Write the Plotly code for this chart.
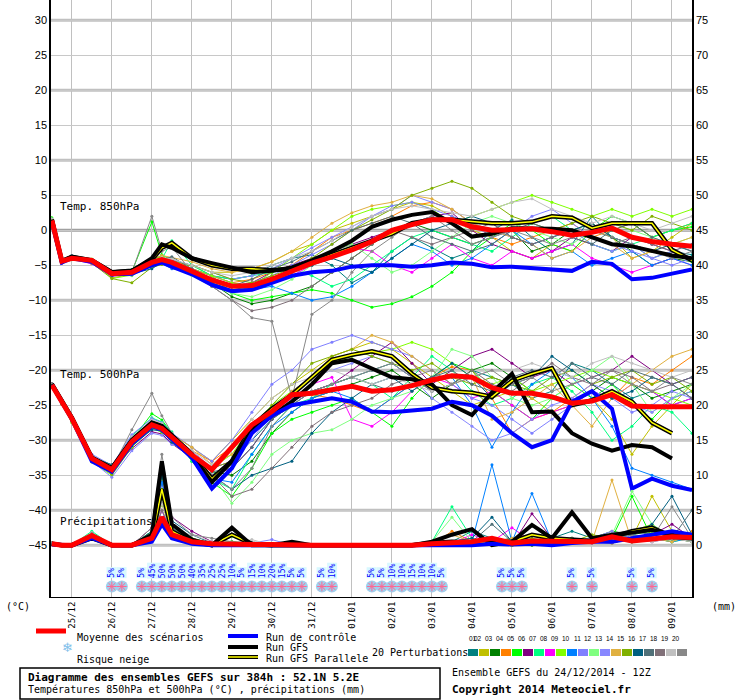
import plotly.graph_objects as go

H = [0,6,12,24,36,48,60,66,72,84,96,108,120,132,144,156,168,180,192,204,216,228,240,252,264,276,288,300,312,324,336,348,360,372,384]
day_hours = [12+24*k for k in range(16)]
day_labels = ["25/12","26/12","27/12","28/12","29/12","30/12","31/12","01/01","02/01","03/01","04/01","05/01","06/01","07/01","08/01","09/01"]
left_ticks = [30,25,20,15,10,5,0,-5,-10,-15,-20,-25,-30,-35,-40,-45]
right_ticks = [75,70,65,60,55,50,45,40,35,30,25,20,15,10,5,0]

# ---- main series: T850 (°C)
t850_mean = [1.4,-4.4,-4,-4.3,-6.2,-6,-4.6,-4.2,-4.6, -5.9,-7.1,-8,-7.9,-7,-5.9,-4.7,-3.8,-2.8,-1.6,0,0.8,1.5,1.5,0.5,0,0.1,0.2,-0.2,-0.7,-0.3,0.3,-1,-1.6,-2,-2.3]
t850_ctrl = [1.2,-4.6,-4,-4.5,-6.3,-6.2,-5,-4.6,-5.2, -6.3,-7.8,-8.7,-8.5,-7.5,-6.5,-6,-5.8,-5.2,-5,-5,-5.2,-5,-4.6,-4.8,-5.3,-5.2,-5.4,-5.6,-5.8,-4.5,-4.8,-7,-6.8,-6.2,-5.6]
t850_gfs = [1.5,-4.4,-3.8,-4.3,-6,-5.8,-4,-2,-2.5, -4,-4.7,-5.3,-6,-5.8,-5.3,-4.3,-3,-1.5,0.5,1.5,2.2,2.6,1,-0.9,-0.5,0.3,0.3,0.2,0,-1,-2,-2.3,-3,-3.6,-4]
t850_par = [1.5,-4.4,-3.8,-4.3,-6,-5.8,-4.2,-2.5,-1.8, -4,-5,-5.5,-5.5,-5.7,-5.5,-4.5,-3.5,-2.5,-1.6,-0.5,1,1.5,1.5,1.2,1,1,1.2,2,1.8,0.3,1,1,1,-2.8,-4.3]

# ---- main series: T500 (°C)
t500_mean = [-22.1,-24.5,-26.9,-32.6,-34.2,-30.2,-27.8,-28.3,-29.5, -32.1,-34.2,-31.1,-27.8,-25.9,-23.5,-23.3,-22.8,-22.3,-23,-22.8,-22.2,-21.4,-20.8,-21,-22.5,-23.3,-23.3,-23.8,-24.7,-24.4,-23.5,-25.1,-25.2,-25.2,-25.2]
t500_ctrl = [-22.1,-24.6,-27,-33,-34.5,-30.5,-28,-28.5,-29.8, -32.5,-36.9,-34,-29,-26.5,-25,-24.5,-24,-24.5,-25.9,-26,-25.7,-25.5,-24.5,-25,-26.5,-29,-31,-30,-24.5,-23,-25.5,-36.9,-35.5,-36.5,-37.1]
t500_gfs = [-22,-24.3,-26.8,-32.5,-34,-30,-27.5,-28,-29.3, -32,-36,-33,-28.5,-26.5,-24.5,-22,-19,-18.5,-19.7,-21,-21.3,-22,-25,-26.4,-23.2,-20.5,-26,-25.9,-29,-30.5,-31.5,-30.7,-31,-32.6,None]
t500_par = [-22,-24.3,-26.8,-32.5,-34,-30,-27.5,-28,-29.3, -32,-35.5,-33,-28,-25.5,-23.5,-21,-18.5,-17.8,-17.3,-18,-20.5,-22.5,-23,-23.2,-23.8,-21.5,-20.5,-19.7,-25,-24.3,-23,-24.5,-27.5,-29,None]

# ---- main series: precipitation (mm)
pr_mean = [0.2,0,0,1.4,0,0,1,4,1.5, 0.5,0.2,0.1,0.1,0.1,0,0,0,0,0,0,0,0.2,0.4,0.5,1,0.3,0.6,0.6,0.5,0.5,1.2,0.6,0.9,1.2,1.1]
pr_ctrl = [0.1,0,0,1,0,0,0.5,3,1, 0.2,0,0,0,0,0,0,0,0,0,0,0,0,0,0,0.2,0.1,0.2,0,0.3,0.5,0.5,1,1.5,2,1.5]
pr_gfs = [0.2,0,0,1.2,0,0,1.5,12,3, 0.8,0,2.5,0,0,0.5,0,0,0,0,0,0,0.5,1.5,2.3,0,0.5,2.9,1,4.7,1,1.5,1.8,2.2,1.5,1]
pr_par = [0.2,0,0,1,0,0,1,8,2, 0.5,0,1.5,0.2,0,0,0,0,0,0,0,0,0.3,0.5,0.4,0.3,0.5,1.5,1,0.8,0.6,1.2,2,2.5,1.2,1]

# ---- 20 perturbations
colors = ["#008080","#c0c000","#008000","#ff8000","#00ff00","#800080","#00ff80","#ff00ff","#80ff00","#0080ff",
          "#8080ff","#80ff80","#8888ff","#e0b040","#80b000","#006080","#507078","#807078","#c0c0c0","#888888"]

p850 = [
 [1.3,-4.6,-3.9,-4.6,-6.4,-6.1,-4.8,-4.5,-5, -5.5,-6.5,-7,-6.5,-5,-4,-3.5,-5,-7.5,-6,-3,-1,-2.5,-4,-3,0,1.5,-1,-3,-2,2,-1,-2,-4,-3,-3.5],
 [1.6,-4.3,-3.7,-4.2,-6.8,-6.3,-4.2,-3.8,-4.4, -5,-6,-6,-5.5,-4.5,-3,-2,0,1,2,3,4,3.5,2,0,-1,-3,-4,-2,-3,0,-1,-4,-3,-1,1],
 [1.2,-4.5,-4.1,-4.4,-6.1,-5.6,-4.4,-3.6,-4.9, -6,-7.5,-9.5,-10.5,-10,-9,-8,-6,-4,-2,0,1,0,-1,-2,-1,0,-3,-2,0,1,-1,-3,-5,-4,-4.5],
 [1.5,-4.4,-3.8,-4.7,-6.5,-6.2,-4.9,-4.2,-4.1, -5.5,-6.5,-7.5,-7,-6,-5,-3,-1,0,1,2,3.5,4,3,1,-1,-2,-1,0,1,-1,0,1,-1,0,1],
 [1.8,-4.2,-3.6,-4.3,-6.2,-5.9,1.2,-3.5,-4.3, -5,-6.5,-9,-10,-9.5,-9,-8.5,-9,-10,-11,-10.5,-9.5,-8,-6,-3,-1,1,0,-2,-3,0,2,1,-1,0,0.5],
 [1.4,-4.7,-4,-4.5,-6,-5.8,-4.7,-3.9,-5.2, -6,-7,-8,-7.5,-6,-5,-4,-3,-2,-1,0,1,2,2.5,0,-2,-3,-4,-3,-1,-2,-3,-1,-2,-3,-4],
 [1.5,-4.5,-3.9,-4.4,-6.3,-6,-4.5,-4.1,-1.5, -5,-6.5,-7,-6.5,-6,-5.5,-6.5,-8,-7,-5,-3,-1,0,-1,-2,-3,-1,1,2,0,-2,-3,-2,-1,0,1],
 [1.3,-4.6,-4.1,-4.8,-6.6,-6.1,-4.6,-4.4,-5.1, -5.5,-6.5,-7.5,-8,-7.5,-6.5,-5,-3.5,-2.5,-3,-5,-6,-4,-2,-4,-5,-3,-4,-3,-2,-4,-5,-6,-5,-4,-5],
 [1.6,-4.4,-3.7,-4.1,-6.9,-6.4,-4.3,-3.7,-4.5, -5.5,-6.5,-7.5,-8,-6,-4,-2,0,2,3,3.5,4,3,1,2,3,4,5,4,3,2,3,2,3,2,3],
 [1.4,-4.5,-4,-4.5,-6.2,-5.9,-5.2,-4.8,-5.5, -6,-7,-8,-8.5,-8,-9,-10,-9.5,-8,-6,-4,-2,-3,-5,-4,-2,0,-2,-4,-3,-5,-4,-3,-5,-4,-5],
 [1.5,-4.3,-3.8,-4.2,-6.1,-6.3,-4.6,-4.3,-4.6, -5.5,-7,-8,-7.5,-6.5,-5,-3.5,-2,0,2,3.5,4,3,2,1,-1,0,2,3,1,-1,-2,-3,-4,-5,-4],
 [1.2,-4.6,-4.2,-4.6,-6.4,-6.5,-4.9,-4.6,-4.8, -6.5,-8,-9,-9.5,-8.5,-7,-5,-3,-2,-4,-6,-5,-3,-1,1,2,1,0,-1,-2,0,1,0,-1,-2,-1],
 [1.6,-4.4,-3.6,-4.3,-6.3,-5.7,-4.4,-4,-4.2, -5,-6,-7,-6.5,-5.5,-4,-2.5,-1,0.5,2,3,5,4,3,1,0,-1,-2,-1,0,-2,-3,-2,-4,-3,-2],
 [1.5,-4.5,-3.9,-4.4,-6,-5.9,-4.1,-3.6,-3.9, -4.5,-5.5,-6,-5.5,-4.5,-3,-1,1,2.5,3.5,4,5,4.5,3,1,0,-1,-2,-4,-3,-1,-2,-4,-3,-2,-1],
 [1.3,-4.6,-4,-4.7,-6.9,-7.5,-5.3,-4.9,-5, -5,-6,-7,-7.5,-6.5,-5.5,-4,-2,0,1.5,3,5,6,7,6,4,2,1,0,1,2,1,0,2,1,0],
 [1.4,-4.5,-3.8,-4.5,-6.5,-6.2,-5.5,-4.6,-4.4, -6,-7.5,-8.5,-8,-7,-6,-5,-4,-5,-6,-4,-2,0,1,2,1,-1,-2,-1,0,1,-1,-2,-3,-2,-3],
 [1.5,-4.4,-3.9,-4.3,-6.2,-6,-4.5,-4.2,-3.8, -5.5,-7,-8,-7,-5.5,-4.5,-3,-1.5,0,1,2,1,-1,-2,-3,-2,0,1,0,-1,-2,0,1,-1,-2,-3],
 [1.3,-4.6,-4,-4.6,-6.4,-6.4,-5.1,-4.7,-5, -6,-8,-10,-11.5,-11,-10,-8,-6,-4,-2,0,-1,-2,-1,0,1,-1,-2,-1,0,-1,-2,-1,-2,-3,-2],
 [1.6,-4.3,-3.8,-4.2,-6,-5.8,-4.3,-3.9,-4.1, -5,-6,-6.5,-6,-5,-4,-3,-1.5,0.5,2,3,3.5,3,2.5,2,3,4,4.5,3,2,1,2,1,0,1,2],
 [1.4,-4.5,-4,-4.4,-6.3,-6,2,-3,-2.4, -6,-8,-10,-12.5,-13,-24,-12,-10,-6,-3,-1,1,2,0,-2,-1,0,-1,-2,-1,0,-1,-2,-3,-4,-3],
]

p500 = [
 [-22,-24.7,-27.3,-32.8,-34.4,-30.5,-27.9,-28.5,-29.9, -32,-35,-33,-30,-27,-25,-23,-22,-21,-20,-19,-21,-23,-22,-20,-21,-22,-24,-23,-19,-20,-22,-24,-23,-25,-24],
 [-22.2,-24.3,-26.8,-32.1,-34.8,-29.8,-27.2,-27.7,-29.1, -31,-33,-30,-27,-24,-22,-20,-18,-17,-16,-17,-19,-21,-23,-25,-24,-23,-24,-26,-25,-24,-27,-32,-28,-25,-22],
 [-22,-24.6,-27,-32.5,-34.6,-30.9,-28.3,-28.6,-30.2, -32,-34.5,-35,-33,-29,-26,-24,-23,-22,-21,-20,-22,-24,-22,-20,-19,-21,-23,-24,-25,-23,-21,-22,-24,-23,-22],
 [-22.1,-24.9,-27.4,-32.2,-33.8,-29.6,-27.6,-28.2,-29.4, -31.5,-33,-31,-28,-26,-24,-23.5,-24,-25,-26,-24,-22,-21,-19.5,-20,-24,-29,-27,-26,-24,-22,-24,-21,-22,-20,-18],
 [-21.9,-24.4,-26.7,-32.9,-34.1,-30,-26.2,-27.1,-29, -33,-36,-38,-34,-29,-27,-26,-25,-24,-26,-28,-24,-21,-19,-20,-23,-25,-27,-24,-22,-24,-22,-25,-27,-24,-23],
 [-22,-24.5,-27.1,-32.7,-34.3,-31.2,-28.8,-29.1,-30.5, -32.5,-35,-34,-31,-27,-24.5,-23,-22,-20,-18,-16,-19,-22,-20,-18,-17,-19,-21,-20,-22,-21,-20,-18,-20,-22,-21],
 [-22.1,-24.6,-27.2,-32.4,-33.9,-29.4,-26.8,-27.4,-28.8, -33,-35.5,-37,-32,-28,-25,-24,-22,-21,-22,-24,-21,-18,-20,-23,-25,-24,-22,-21,-23,-26,-30,-28,-25,-26,-29],
 [-22,-24.4,-26.9,-32.6,-34.5,-30.3,-27.7,-28.1,-29.6, -32,-34,-33,-29,-26,-24,-22,-21,-27,-28,-26,-23,-21,-22,-24,-23,-25,-27,-26,-25,-23,-24,-22,-23,-25,-24],
 [-22.2,-24.8,-27.5,-33.1,-35,-31,-28.2,-28.9,-30.1, -32,-34,-32,-28,-25,-23,-21,-19,-18,-17.5,-17,-16,-17,-19,-21,-22,-21,-23,-22,-21,-20,-21,-22,-23,-24,-25],
 [-22,-24.5,-27,-32.5,-34.2,-30.1,-27.4,-28,-29.5, -32.5,-35.5,-36,-32,-28,-26,-24,-23,-24,-26,-24,-22,-21,-21,-25,-31,-26,-22,-20,-21,-24,-28,-34,-35,-36,-37],
 [-21.9,-24.3,-26.6,-32,-33.6,-29.2,-26.9,-27.5,-29, -31,-33,-30,-26,-22,-20,-17,-16,-15,-16,-17,-18,-20,-22,-24,-25,-27,-29,-27,-25,-23,-24,-26,-25,-23,-24],
 [-22.1,-24.7,-27.3,-32.9,-34.7,-30.7,-28.1,-28.4,-30, -32,-35,-39,-36,-32,-30,-29,-28.5,-27,-25,-24,-23,-21,-17,-18,-21,-24,-25,-24,-22,-20,-18,-22,-26,-24,-22],
 [-22,-24.6,-27.1,-33,-35.3,-31.5,-29,-29.3,-30.6, -31.5,-34,-33,-30,-26,-23,-21,-20,-19,-18,-19,-21,-24,-26,-28,-30,-29,-27,-25,-24,-22,-23,-25,-26,-24,-23],
 [-22.2,-24.4,-26.8,-32.3,-34,-29.9,-27.3,-27.9,-29.2, -31,-33.5,-32,-29,-26,-23,-21,-18,-17,-15,-16,-18,-20,-22,-21,-27,-26,-24,-22,-25,-28,-24,-22,-20,-18,-17],
 [-22,-24.5,-27,-32.7,-34.9,-30.6,-27.8,-28.3,-29.8, -32,-34,-33,-29,-25,-22,-19,-18,-17,-18,-19,-20,-19,-21,-22,-21,-22,-23,-21,-20,-22,-21,-20,-22,-21,-23],
 [-22.1,-24.8,-27.2,-32.4,-33.5,-30.8,-28.5,-28.7,-30.3, -32.5,-35,-37,-35,-34,-33,-29,-26,-24,-22,-21,-23,-21,-19,-21,-24,-22,-21,-18,-20,-22,-24,-23,-21,-22,-24],
 [-22,-24.4,-26.9,-32.6,-34.2,-30.2,-27.6,-28,-29.4, -32,-34.5,-34,-31,-27,-25,-23,-22,-21,-22,-23,-22,-21,-20,-22,-23,-21,-20,-21,-19,-21,-22,-20,-21,-22,-21],
 [-21.9,-24.6,-27.1,-32.8,-34.6,-30.4,-27.9,-28.6,-30, -32,-35,-38,-37,-34,-31,-28,-26,-25,-24,-22,-21,-23,-22,-20,-22,-23,-21,-19,-21,-22,-20,-21,-23,-22,-24],
 [-22.1,-24.5,-26.9,-32.2,-33.7,-29.5,-27.1,-27.6,-29.1, -31.5,-33.5,-31,-27,-24,-22,-21,-20,-21,-22,-21,-22,-23,-22,-21,-20,-20,-19,-20,-21,-19,-18,-19,-20,-21,-20],
 [-22,-24.6,-27.2,-32.5,-34.1,-28.5,-23.3,-26.5,-29, -32,-35,-37,-34,-28,-25,-23,-22,-21,-20,-19,-21,-20,-22,-21,-20,-22,-21,-23,-22,-21,-20,-22,-23,-21,-22],
]

ppr = [
 [0.3,0,0,1.5,0,0,1.5,8,2, 0.5,0.2,0.5,0.2,0,0,0,0,0,0,0,0,0,0.5,2,1,0,0.5,1,2,1,0.5,1.5,1,0.8,1],
 [0.2,0,0,1,0,0,1,6,1.5, 0.3,0,0,0.3,0,0,0,0,0,0,0,0,0,0,0,0.5,0,0.5,0,0.5,1,0.5,1,7,2,1],
 [0.3,0,0,1.2,0,0,2,10,3, 1,0.3,0,0,0,0,0,0,0,0,0,0,0.5,0.3,0,0.5,1,0,0.5,0.3,1,2,1.5,2,1,1.5],
 [0.2,0,0,1,0,0,1,5,2, 0.3,0,0.3,0.2,0,0,0,0,0,0,0,0,0,2,0.5,0,0.5,1.5,0.3,0.5,1,1.5,0.5,1,0.5,2],
 [0.3,0,0,1.8,0,0,1.5,7,2.5, 0.5,0,0.5,0,0,0,0,0,0,0,0,0,0.5,0,0,0.3,0,0.5,0,0.3,0.5,1,7,1,0.5,1],
 [0.2,0,0,1.2,0,0,2.5,9,4, 2,0.5,0,0,0,0,0,0,0,0,0,0,0,0.5,1,0.3,0,4.5,1,0.5,0.3,1,0.5,1.5,3,1],
 [0.3,0,0,2,0,0,1.5,6,2, 0.5,0.3,0.5,0,0,0,0,0,0,0,0,0,0.5,5.5,1,0,0.5,0.3,0.5,1,0.5,1,0.5,2,1,0.5],
 [0.2,0,0,1.3,0,0,1,5,1.5, 0.2,0,0.2,0.3,0,0,0,0,0,0,0,0,0,0.3,1.5,0.5,2.5,0.5,0,0.5,1,0.3,1,0.5,1,0.5],
 [0.3,0,0,1,0,0,1.2,6,2, 0.3,0,0.5,0.2,0,0,0,0,0,0,0,0,0,0,0.3,0.5,0,0.3,0.5,1,0.5,0.3,2,3,1,0.5],
 [0.2,0,0,1.1,0,0,1.5,9,2.5, 0.5,0,0.3,0,0,0,0,0,0,0,0,0,0,0.3,0.5,11.5,0.5,7.4,0.5,0.3,1,0.5,1.5,1,0.5,1],
 [0.3,0,0,1.4,0,0,1,4,1.5, 0.3,0,0,0.3,0.8,0,0,0,0,0,0,0,0,0.3,0.5,1,0.3,0.5,0,0.5,1,0.5,1.5,2.5,1,1.5],
 [0.2,0,0,1.6,0,0,2,7,2.5, 0.5,0,1.2,0.3,0,0,0,0,0,0,0,0,0.5,4,0.5,0.3,0.5,0.5,1,0.5,1,1.5,7.7,3,1,0.5],
 [0.3,0,0,1.2,0,0,1,5,2, 0.3,0,0,0.3,0,0,0,0,0,0,0,0,0,0.5,0.5,1,0.3,0.5,0.3,0.5,1,2,0.5,1.5,2,1],
 [0.2,0,0,1,0,0,1.5,6,2, 0.3,0,0.3,0,0,0,0,0,0,0,0,0,0,1.5,0.5,0.3,1,1.5,0.5,1,0.5,9.3,0.5,1,0.5,1.5],
 [0.3,0,0,1.5,0,0,1.8,8,3, 1,0.2,0,0,0,0,0,0,0,0,0,0,0,0.3,0.5,0.5,0.3,1,0.5,0.5,1.5,1,0.5,2,1,1],
 [0.2,0,0,1.3,0,0,2,10,3.5, 1.5,0.3,0,0,0,0,0,0,0,0,0,0,0,0.5,1,4,0.5,0.3,0.5,1,0.5,1,1.5,3,7,1.5],
 [0.3,0,0,1.2,0,0,1.5,7,2.5, 0.5,0,0.3,0,0,0,0,0,0,0,0,0,0,0.5,0.5,3,0.5,0.5,1,0.5,0.5,1,2,1.5,1,5],
 [0.2,0,0,1,0,0,1,5,1.5, 0.3,0,0,0.2,0,0,0,0,0,0,0,0,0,0,0.5,0.5,0.3,0.5,0.5,1,0.5,0.3,1,0.5,1,0.5],
 [0.3,0,0,1.8,0,0,1.5,6,2, 1.5,0.5,0.3,0.8,0,0,0,0,0,0,0,0,0,0.3,0.5,0.3,0.5,0.3,0.5,0.5,1,0.5,1,0.5,1,0.5],
 [0.3,0,0,1.7,0,0,2.5,13,4, 1.5,1,0.5,0.3,0,0,0,0,0,0,0,0,0,0.3,0.5,0.5,0.3,0.5,0.5,1,0.5,1,1.5,1,5.5,1],
]

# ---- snow risk
snow_h = [36,42, 54,60,66,72,78,84,90,96,102,108,114,120,126,132,138,144,150, 162,168,
          192,198,204,210,216,222,228,234, 270,276,282, 312,324,348,360]
snow_pct = [5,5, 5,45,50,50,50,40,35,25,25,10,5,15,10,20,15,5,5, 5,10,
            5,5,10,10,15,10,10,5, 5,5,5, 5,5,5,5]

Y0, Y1 = -52.4, 32.9
fig = go.Figure()

def px2x(px): return (px-51)/641
def px2y(py): return (597-py)/597

for i in range(20):
    for arr, ax in ((p850, "y"), (p500, "y"), (ppr, "y2")):
        fig.add_trace(go.Scatter(x=H, y=arr[i], yaxis=ax, mode="lines+markers",
            line=dict(color=colors[i], width=1), marker=dict(size=3, color=colors[i]),
            showlegend=False, hoverinfo="skip"))

def thick(y, color, width, ax="y"):
    fig.add_trace(go.Scatter(x=H, y=y, yaxis=ax, mode="lines", line=dict(color=color, width=width),
                             showlegend=False, hoverinfo="skip", connectgaps=False))

for (a, b, c), ax in (((t850_par, t850_gfs, t850_ctrl), "y"), ((t500_par, t500_gfs, t500_ctrl), "y"), ((pr_par, pr_gfs, pr_ctrl), "y2")):
    thick(a, "black", 4.5, ax); thick(a, "#ffff00", 1.5, ax)
    thick(b, "black", 4, ax)
    thick(c, "#0000ff", 4, ax)
thick(t850_mean, "#ff0000", 5); thick(t500_mean, "#ff0000", 5); thick(pr_mean, "#ff0000", 5, "y2")

fig.add_trace(go.Scatter(x=snow_h, y=[-50.9]*len(snow_h), mode="markers",
    marker=dict(symbol="circle", size=12, color="#9fd0ee"), showlegend=False, hoverinfo="skip"))
fig.add_trace(go.Scatter(x=snow_h, y=[-50.9]*len(snow_h), mode="markers",
    marker=dict(symbol="asterisk-open", size=8, line=dict(color="#e8f6ff", width=1)), showlegend=False, hoverinfo="skip"))
for h, p in zip(snow_h, snow_pct):
    fig.add_annotation(x=h, y=-49.8, text=f"{p}%", textangle=-90, yanchor="bottom", showarrow=False,
                       font=dict(family="DejaVu Sans Mono", size=8, color="#0000ff"),
                       bgcolor="#d8f8ff", borderpad=0)

shapes = []
for v in [30,20,10,-10,-20,-30,-40,-45]:
    shapes.append(dict(type="line", xref="paper", x0=0, x1=1, yref="y", y0=v, y1=v,
                       line=dict(color="#c0c0c0", width=3), layer="below"))
shapes.append(dict(type="line", xref="paper", x0=0, x1=1, yref="y", y0=0, y1=0,
                   line=dict(color="#a0a0a0", width=3), layer="below"))

mono = "DejaVu Sans Mono"
ann = [
    dict(x=px2x(58), y=px2y(206), text="Temp. 850hPa", xanchor="left", s=11),
    dict(x=px2x(58), y=px2y(375), text="Temp. 500hPa", xanchor="left", s=11),
    dict(x=px2x(58), y=px2y(521), text="Précipitations", xanchor="left", s=11),
    dict(x=px2x(4), y=px2y(606), text="(°C)", xanchor="left", s=10),
    dict(x=px2x(738), y=px2y(606), text="(mm)", xanchor="right", s=10),
    dict(x=px2x(75), y=px2y(637), text="Moyenne des scénarios", xanchor="left", s=10),
    dict(x=px2x(75), y=px2y(659), text="Risque neige", xanchor="left", s=10),
    dict(x=px2x(264), y=px2y(637), text="Run de contrôle", xanchor="left", s=10),
    dict(x=px2x(264), y=px2y(647.5), text="Run GFS", xanchor="left", s=10),
    dict(x=px2x(264), y=px2y(658), text="Run GFS Parallele", xanchor="left", s=10),
    dict(x=px2x(370), y=px2y(652), text="20 Perturbations", xanchor="left", s=10),
    dict(x=px2x(26), y=px2y(677), text="<b>Diagramme des ensembles GEFS sur 384h : 52.1N 5.2E</b>", xanchor="left", s=11),
    dict(x=px2x(26), y=px2y(690), text="Températures 850hPa et 500hPa (°C) , précipitations (mm)", xanchor="left", s=10),
    dict(x=px2x(450), y=px2y(672), text="Ensemble GEFS du 24/12/2014 - 12Z", xanchor="left", s=10),
    dict(x=px2x(450), y=px2y(690), text="<b>Copyright 2014 Meteociel.fr</b>", xanchor="left", s=11),
]
for a in ann:
    s = a.pop("s")
    fig.add_annotation(xref="paper", yref="paper", showarrow=False, yanchor="middle",
                       font=dict(family=mono, size=s, color="black"), **a)

def seg(x0, x1, y, color, w):
    shapes.append(dict(type="line", xref="paper", yref="paper", x0=px2x(x0), x1=px2x(x1),
                       y0=px2y(y), y1=px2y(y), line=dict(color=color, width=w)))
seg(36, 66, 631, "#ff0000", 5)
seg(228, 258, 636, "#0000ff", 4)
seg(228, 258, 647, "black", 4)
seg(228, 258, 657, "black", 4); seg(228, 258, 657, "#ffff00", 1.5)
for i in range(20):
    x0 = 468 + i*11
    shapes.append(dict(type="rect", xref="paper", yref="paper", x0=px2x(x0), x1=px2x(x0+10),
                       y0=px2y(656), y1=px2y(649), fillcolor=colors[i], line=dict(width=0)))
    fig.add_annotation(xref="paper", yref="paper", x=px2x(x0+5), y=px2y(644), text=f"{i+1:02d}",
                       showarrow=False, font=dict(family="Liberation Sans Narrow, Liberation Sans", size=6.5, color="black"))
shapes.append(dict(type="rect", xref="paper", yref="paper", x0=px2x(20), x1=px2x(440),
                   y0=px2y(699), y1=px2y(668), line=dict(color="black", width=1.5)))
fig.add_annotation(xref="paper", yref="paper", x=px2x(60), y=px2y(658), text="❄", showarrow=False,
                   font=dict(size=13, color="#7fc0ea"))

tickf = dict(family="Liberation Sans", size=11, color="black")
fig.update_layout(
    width=740, height=700, margin=dict(l=51, r=48, t=0, b=103, autoexpand=False),
    paper_bgcolor="white", plot_bgcolor="white", showlegend=False, shapes=shapes,
    xaxis=dict(range=[-0.5, 384], tickvals=day_hours, ticktext=day_labels, tickangle=-90, automargin=False,
               showgrid=True, gridcolor="#c0c0c0", gridwidth=1, showline=True, linecolor="black",
               linewidth=1, zeroline=False, tickfont=dict(family=mono, size=9, color="black"), ticks=""),
    yaxis=dict(range=[Y0, Y1], tickvals=left_ticks, showgrid=True, gridcolor="#c8c8c8", zeroline=False,
               automargin=False, showline=True, linecolor="black", linewidth=1.5, ticks="", tickfont=tickf),
    yaxis2=dict(range=[Y0+45, Y1+45], tickvals=right_ticks, overlaying="y", side="right", automargin=False,
                showgrid=False, zeroline=False, showline=True, linecolor="black", linewidth=1.5, ticks="",
                tickfont=tickf),
)
fig.write_html("out.html", config={"displayModeBar": False},
               post_script="document.body.style.margin='0px';document.body.style.overflow='hidden';")
